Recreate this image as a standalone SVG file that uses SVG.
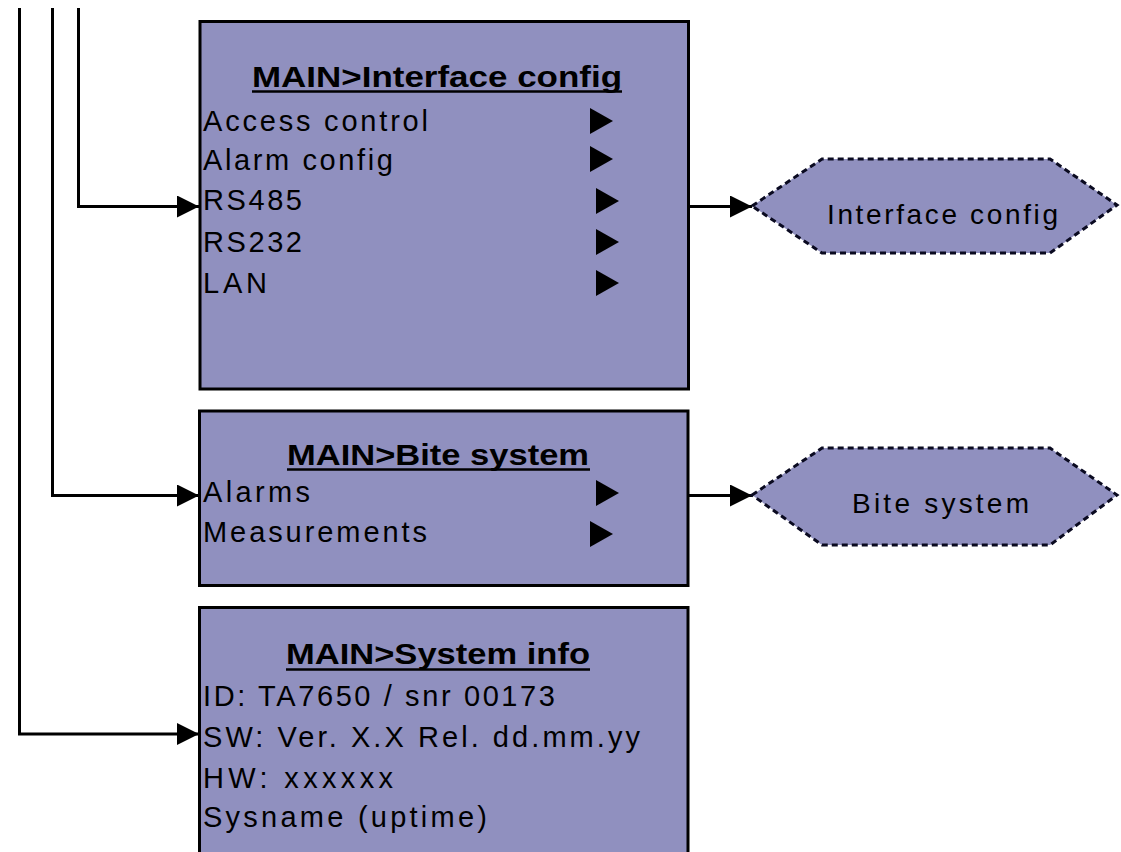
<svg xmlns="http://www.w3.org/2000/svg" width="1121" height="852" viewBox="0 0 1121 852">
  <defs>
    <style>
      .menu { fill: #9090bf; stroke: #000; stroke-width: 3; }
      .term { fill: #9090bf; stroke: #0a0a20; stroke-width: 3; stroke-dasharray: 6 4; }
      .title { font-family: "Liberation Sans", Arial, sans-serif; font-size: 30px; font-weight: bold; fill: #000; }
      .item { font-family: "Liberation Sans", Arial, sans-serif; font-size: 29px; fill: #000; }
      .label { font-family: "Liberation Sans", Arial, sans-serif; font-size: 28px; fill: #000; }
      .uline { stroke: #000; stroke-width: 2.5; }
      .sub { fill: #000; }
      .wire { fill: none; stroke: #000; stroke-width: 3; }
    </style>
    <marker id="arrow" markerUnits="userSpaceOnUse" markerWidth="23" markerHeight="23" refX="22" refY="11" orient="auto">
      <path d="M0,0 L22,11 L0,22 Z" fill="#000"/>
    </marker>
    <polygon id="tri" points="0,0 23,13 0,26"/>
  </defs>

  <!-- Connectors -->
  <g id="connectors">
    <polyline class="wire" points="78.5,8 78.5,206.5 199,206.5" marker-end="url(#arrow)"/>
    <polyline class="wire" points="52.5,8 52.5,495.5 199,495.5" marker-end="url(#arrow)"/>
    <polyline class="wire" points="19.5,8 19.5,734 199,734" marker-end="url(#arrow)"/>
    <line class="wire" x1="689" y1="206.5" x2="752" y2="206.5" marker-end="url(#arrow)"/>
    <line class="wire" x1="689" y1="495.5" x2="752" y2="495.5" marker-end="url(#arrow)"/>
  </g>

  <!-- Interface config menu -->
  <g id="menu-interface-config">
    <rect class="menu" x="200" y="21.5" width="488.5" height="367.5"/>
    <text class="title" x="252" y="87" textLength="370" lengthAdjust="spacingAndGlyphs">MAIN&gt;Interface config</text>
    <line class="uline" x1="252" y1="91.5" x2="622" y2="91.5"/>
    <text class="item" x="203" y="131" textLength="225" lengthAdjust="spacing">Access control</text>
    <text class="item" x="203" y="170" textLength="190" lengthAdjust="spacing">Alarm config</text>
    <text class="item" x="203" y="210" textLength="99" lengthAdjust="spacing">RS485</text>
    <text class="item" x="203" y="252" textLength="99" lengthAdjust="spacing">RS232</text>
    <text class="item" x="203" y="293" textLength="64" lengthAdjust="spacing">LAN</text>
    <use href="#tri" class="sub" x="590" y="108"/>
    <use href="#tri" class="sub" x="590" y="146"/>
    <use href="#tri" class="sub" x="596" y="188"/>
    <use href="#tri" class="sub" x="596" y="229"/>
    <use href="#tri" class="sub" x="596" y="270"/>
  </g>

  <!-- Bite system menu -->
  <g id="menu-bite-system">
    <rect class="menu" x="199.5" y="411" width="488.5" height="174.5"/>
    <text class="title" x="287" y="465" textLength="302" lengthAdjust="spacingAndGlyphs">MAIN&gt;Bite system</text>
    <line class="uline" x1="287" y1="469.5" x2="590" y2="469.5"/>
    <text class="item" x="203" y="502" textLength="107" lengthAdjust="spacing">Alarms</text>
    <text class="item" x="203" y="542" textLength="224" lengthAdjust="spacing">Measurements</text>
    <use href="#tri" class="sub" x="596" y="480"/>
    <use href="#tri" class="sub" x="590" y="521"/>
  </g>

  <!-- System info menu -->
  <g id="menu-system-info">
    <rect class="menu" x="199.5" y="607.5" width="488.5" height="260"/>
    <text class="title" x="286" y="664" textLength="304" lengthAdjust="spacingAndGlyphs">MAIN&gt;System info</text>
    <line class="uline" x1="286" y1="669.5" x2="590" y2="669.5"/>
    <text class="item" x="203" y="706" textLength="352" lengthAdjust="spacing">ID: TA7650 / snr 00173</text>
    <text class="item" x="203" y="747" textLength="437" lengthAdjust="spacing">SW: Ver. X.X Rel. dd.mm.yy</text>
    <text class="item" x="203" y="788" textLength="190" lengthAdjust="spacing">HW: xxxxxx</text>
    <text class="item" x="203" y="827" textLength="284" lengthAdjust="spacing">Sysname (uptime)</text>
  </g>

  <!-- Terminal nodes -->
  <g id="node-interface-config">
    <polygon class="term" points="752,206 822,159 1050,159 1117,205 1050,253 822,253"/>
    <text class="label" x="827" y="224" textLength="231" lengthAdjust="spacing">Interface config</text>
  </g>
  <g id="node-bite-system">
    <polygon class="term" points="752,495 822,448 1050,448 1117,495 1050,545 822,545"/>
    <text class="label" x="852" y="513" textLength="177" lengthAdjust="spacing">Bite system</text>
  </g>
</svg>
